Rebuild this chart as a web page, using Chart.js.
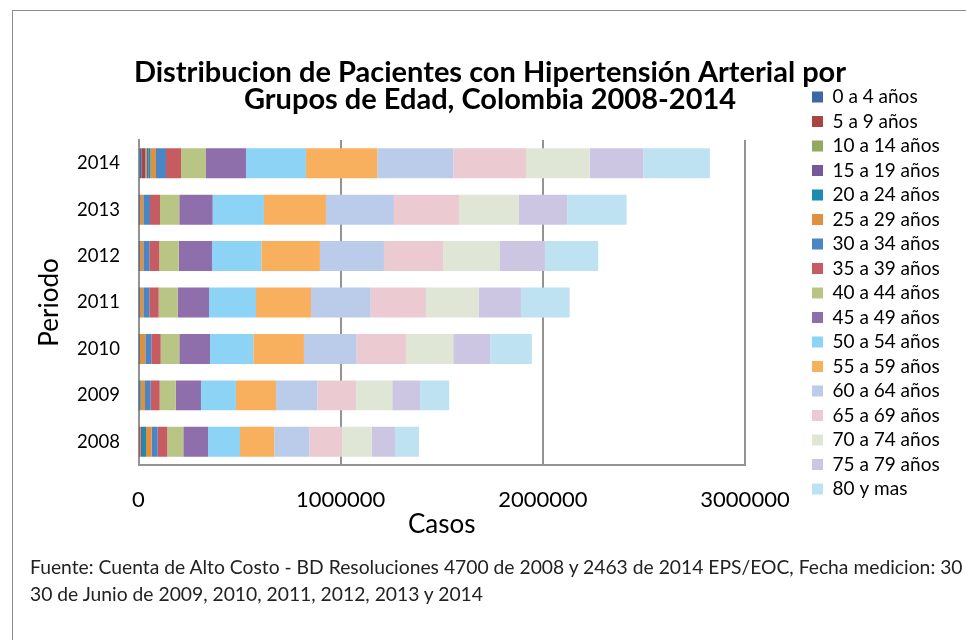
<!DOCTYPE html>
<html><head><meta charset="utf-8">
<script src="https://cdn.jsdelivr.net/npm/chart.js@4.4.1/dist/chart.umd.min.js"></script>
<style>
html,body{margin:0;padding:0;background:#fff;}
#wrap{position:relative;width:966px;height:640px;overflow:hidden;background:#fff;}
#frame{position:absolute;left:12px;top:10px;width:1000px;height:700px;border-left:1.5px solid #8c8c8c;border-top:1.5px solid #8c8c8c;}
#c{position:absolute;left:0;top:0;}
#foot{position:absolute;left:30px;top:553px;font-family:Lato,sans-serif;font-size:19.3px;line-height:27px;color:#222;white-space:nowrap;}
</style></head><body>
<div id="wrap"><div id="frame"></div><canvas id="c" width="966" height="640"></canvas>
<div id="foot">Fuente: Cuenta de Alto Costo - BD Resoluciones 4700 de 2008 y 2463 de 2014 EPS/EOC, Fecha medicion: 30<br>30 de Junio de 2009, 2010, 2011, 2012, 2013 y 2014</div></div>
<script>
const categories = ['2008','2009','2010','2011','2012','2013','2014'];
const ageGroups = ['0 a 4 años','5 a 9 años','10 a 14 años','15 a 19 años','20 a 24 años','25 a 29 años','30 a 34 años','35 a 39 años','40 a 44 años','45 a 49 años','50 a 54 años','55 a 59 años','60 a 64 años','65 a 69 años','70 a 74 años','75 a 79 años','80 y mas'];
const xTicks = [0, 1000000, 2000000, 3000000];

const s0_4   = [4000, 1000, 1200, 1200, 1200, 1500, 14800];
const s5_9   = [4500, 800, 1000, 1000, 1000, 1000, 18800];
const s10_14 = [3500, 700, 1000, 1000, 1000, 1000, 6900];
const s15_19 = [5300, 1500, 1200, 1200, 1200, 1200, 7900];
const s20_24 = [19800, 6500, 3000, 3000, 3000, 2500, 10900];
const s25_29 = [28200, 21600, 26200, 16300, 16300, 16500, 27200];
const s30_34 = [29700, 28200, 29700, 29700, 29700, 33100, 49500];
const s35_39 = [47500, 44500, 46500, 46500, 49500, 49500, 74200];
const s40_44 = [79100, 79100, 92000, 94000, 95900, 95400, 123600];
const s45_49 = [122200, 125100, 151800, 154800, 164700, 165200, 197800];
const s50_54 = [158300, 173100, 214100, 232400, 243800, 253700, 296700];
const s55_59 = [169600, 197800, 250700, 272000, 290300, 306600, 352600];
const s60_64 = [173100, 204300, 260600, 295300, 316500, 336300, 375900];
const s65_69 = [161700, 191400, 243800, 273500, 293300, 321500, 359500];
const s70_74 = [146900, 179500, 233900, 262100, 280400, 296700, 316500];
const s75_79 = [115200, 137000, 183000, 207700, 222600, 238900, 263600];
const s80    = [118700, 144900, 206200, 240900, 263600, 293800, 329900];

const seriesValues = [s0_4,s5_9,s10_14,s15_19,s20_24,s25_29,s30_34,s35_39,s40_44,s45_49,s50_54,s55_59,s60_64,s65_69,s70_74,s75_79,s80];
const colors = ['#3C68A8','#A94442','#94A95F','#76599A','#1E8BAE','#E0913E','#4A86C5','#C75B62','#B9C585','#8E6FAB','#8DD3F5','#F8B05E','#BACCEA','#ECCAD2','#DFE6D6','#CCC6E3','#BEE2F2'];

const PLOT_RIGHT = 745, LEGEND_ITEM_X = 812, LEGEND_DY = 15.5;
const legendPlace = {
  id: 'legendPlace',
  beforeLayout(chart) {
    const lg = chart.legend;
    if (lg && !lg._patched) {
      const f = lg.fit.bind(lg);
      lg.fit = function() { f(); if (!this.isHorizontal()) this.width = chart.width - PLOT_RIGHT; };
      lg._patched = true;
    }
  },
  afterLayout(chart) {
    const lg = chart.legend;
    const pad = lg.options.labels.padding;
    const w = lg.width;
    lg.left = LEGEND_ITEM_X - pad; lg.right = lg.left + w;
    lg.top += LEGEND_DY; lg.bottom += LEGEND_DY;
  }
};

const FONT = 'Lato';
new Chart(document.getElementById('c'), {
  type: 'bar',
  data: {
    labels: categories,
    datasets: seriesValues.map((v, i) => ({
      label: ageGroups[i], data: v, backgroundColor: colors[i], borderWidth: 0,
      categoryPercentage: 1, barPercentage: 0.645
    }))
  },
  options: {
    indexAxis: 'y', responsive: false, animation: false,
    layout: { padding: { left: 14, right: 0, top: 10, bottom: 95 } },
    plugins: {
      title: { display: true, text: ['Distribucion de Pacientes con Hipertensión Arterial por', 'Grupos de Edad, Colombia 2008-2014'],
        font: { family: FONT, size: 29, weight: 'bold', lineHeight: 0.935 }, color: '#000', padding: { top: 49.4, bottom: 26.4 } },
      legend: { position: 'right', labels: { boxWidth: 11, boxHeight: 11, font: { family: FONT, size: 19 }, color: '#000', padding: 5.5 } },
      tooltip: { enabled: false }
    },
    scales: {
      x: { stacked: true, min: 0, max: 3000000,
        afterBuildTicks: s => { s.ticks = xTicks.map(v => ({ value: v })); },
        afterFit: s => { s.height = 80; },
        ticks: { callback: v => String(v), font: { family: FONT, size: 22 }, color: '#000', padding: 21.8, maxRotation: 0 },
        grid: { color: '#939393', lineWidth: 2, drawTicks: false },
        border: { color: '#939393', width: 2 },
        title: { display: true, text: 'Casos', font: { family: FONT, size: 26 }, color: '#000', padding: { top: 0, bottom: 5 } }
      },
      y: { stacked: true, reverse: true,
        afterFit: s => { s.width = 124.5; },
        ticks: { font: { family: FONT, size: 18.5 }, color: '#000', padding: 18.5 },
        grid: { display: false, drawTicks: false },
        border: { color: '#939393', width: 2 },
        title: { display: true, text: 'Periodo', font: { family: FONT, size: 26 }, color: '#000', padding: { top: 20, bottom: 0 } }
      }
    }
  },
  plugins: [legendPlace]
});
</script>
</body></html>
